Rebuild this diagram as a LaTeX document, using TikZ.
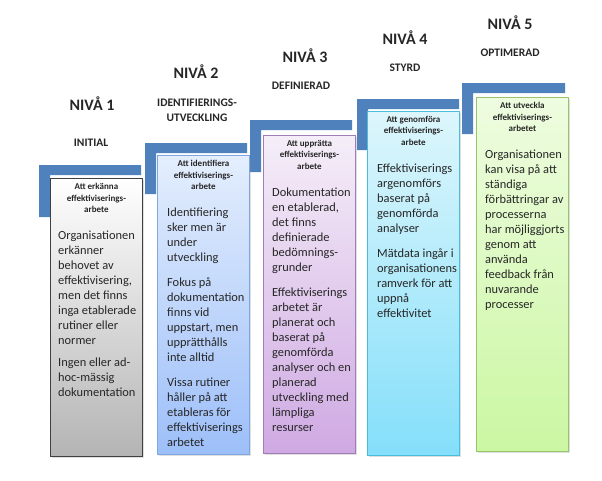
\documentclass[tikz,border=0pt]{standalone}
\usepackage{fontspec}
\setmainfont{Carlito}
\usetikzlibrary{shadows}
\definecolor{barblue}{RGB}{79,129,189}
\definecolor{txtgray}{RGB}{38,38,38}
\definecolor{grayline}{RGB}{64,64,64}
\definecolor{graybot}{RGB}{180,180,180}
\definecolor{bluetop}{RGB}{228,238,253}
\definecolor{bluebot}{RGB}{157,191,249}
\definecolor{blueline}{RGB}{127,167,223}
\definecolor{lilatop}{RGB}{245,238,248}
\definecolor{lilabot}{RGB}{207,169,227}
\definecolor{lilaline}{RGB}{157,127,181}
\definecolor{cyantop}{RGB}{221,246,252}
\definecolor{cyanbot}{RGB}{132,223,250}
\definecolor{cyanline}{RGB}{75,188,217}
\definecolor{greentop}{RGB}{238,252,224}
\definecolor{greenbot}{RGB}{203,247,162}
\definecolor{greenline}{RGB}{152,196,107}
\tikzset{
  bracket/.style={fill=barblue},
  stepbox/.style={draw, line width=0.8pt, inner sep=0pt, anchor=north west,
    minimum width=92pt,
    drop shadow={shadow xshift=1.2pt, shadow yshift=-1.5pt, opacity=0.25}},
  hdr/.style={font=\fontsize{9}{11.5}\selectfont\bfseries, text=txtgray,
    align=center, inner sep=0pt, anchor=north},
  body/.style={font=\fontsize{12.4}{15}\selectfont, text=txtgray,
    align=left, inner sep=0pt, anchor=north west},
  niva/.style={font=\fontsize{16}{19}\selectfont\bfseries, text=txtgray},
  sub/.style={font=\fontsize{11.5}{15}\selectfont\bfseries, text=txtgray, align=center}
}
\begin{document}
\begin{tikzpicture}[x=1pt, y=-1pt]
\useasboundingbox (0,0) rectangle (602,480);
% brackets
\fill[bracket] (39,165) -- (141,165) -- (141,175) -- (50,175) -- (50,217) -- (39,217) -- cycle;
\fill[bracket] (145,143) -- (247,143) -- (247,153) -- (156,153) -- (156,194) -- (145,194) -- cycle;
\fill[bracket] (250,120) -- (352,120) -- (352,130) -- (261,130) -- (261,172) -- (250,172) -- cycle;
\fill[bracket] (357,99) -- (459,99) -- (459,109) -- (368,109) -- (368,150) -- (357,150) -- cycle;
\fill[bracket] (462,83) -- (565,83) -- (565,93) -- (473,93) -- (473,134) -- (462,134) -- cycle;
% titles
\node[niva] (n1) at (92,104) {NIVÅ 1};
\node[sub] (s1) at (91,143) {INITIAL};
\node[niva] (n2) at (196,72) {NIVÅ 2};
\node[sub] (s2) at (197,110) {IDENTIFIERINGS-\\UTVECKLING};
\node[niva] (n3) at (305,56) {NIVÅ 3};
\node[sub] (s3) at (301,86) {DEFINIERAD};
\node[niva] (n4) at (405,38) {NIVÅ 4};
\node[sub] (s4) at (405,68) {STYRD};
\node[niva] (n5) at (510,23) {NIVÅ 5};
\node[sub] (s5) at (510,53) {OPTIMERAD};
% level 1
\node[stepbox, draw=grayline, top color=white, bottom color=graybot,
  minimum height=278pt] (b1) at (50,178) {};
\node[hdr] (h1) at ([yshift=-5pt]b1.north) {Att erkänna\\effektiviserings-\\arbete};
\node[body] (d1) at ([xshift=8pt, yshift=-53pt]b1.north west)
  {Organisationen\\erkänner\\behovet av\\effektivisering,\\men det finns\\inga etablerade\\rutiner eller\\normer\\[7pt]
   Ingen eller ad-\\hoc-mässig\\dokumentation};
% level 2
\node[stepbox, draw=blueline, top color=bluetop, bottom color=bluebot,
  minimum height=299pt] (b2) at (157,155) {};
\node[hdr] (h2) at ([yshift=-5pt]b2.north) {Att identifiera\\effektiviserings-\\arbete};
\node[body] (d2) at ([xshift=10pt, yshift=-53pt]b2.north west)
  {Identifiering\\sker men är\\under\\utveckling\\[10pt]
   Fokus på\\dokumentation\\finns vid\\uppstart, men\\upprätthålls\\inte alltid\\[10pt]
   Vissa rutiner\\håller på att\\etableras för\\effektiviserings\\arbetet};
% level 3
\node[stepbox, draw=lilaline, top color=lilatop, bottom color=lilabot,
  minimum height=318pt] (b3) at (263,135) {};
\node[hdr] (h3) at ([yshift=-5pt]b3.north) {Att upprätta\\effektiviserings-\\arbete};
\node[body] (d3) at ([xshift=9pt, yshift=-53pt]b3.north west)
  {Dokumentation\\en etablerad,\\det finns\\definierade\\bedömnings-\\grunder\\[10pt]
   Effektiviserings\\arbetet är\\planerat och\\baserat på\\genomförda\\analyser och en\\planerad\\utveckling med\\lämpliga\\resurser};
% level 4
\node[stepbox, draw=cyanline, top color=cyantop, bottom color=cyanbot,
  minimum height=344pt] (b4) at (367,111) {};
\node[hdr] (h4) at ([yshift=-5pt]b4.north) {Att genomföra\\effektiviserings-\\arbete};
\node[body] (d4) at ([xshift=10pt, yshift=-53pt]b4.north west)
  {Effektiviserings\\argenomförs\\baserat på\\genomförda\\analyser\\[10pt]
   Mätdata ingår i\\organisationens\\ramverk för att\\uppnå\\effektivitet};
% level 5
\node[stepbox, draw=greenline, top color=greentop, bottom color=greenbot,
  minimum height=354pt] (b5) at (476,97) {};
\node[hdr] (h5) at ([yshift=-5pt]b5.north) {Att utveckla\\effektiviserings-\\arbetet};
\node[body] (d5) at ([xshift=9pt, yshift=-53pt]b5.north west)
  {Organisationen\\kan visa på att\\ständiga\\förbättringar av\\processerna\\har möjliggjorts\\genom att\\använda\\feedback från\\nuvarande\\processer};
\end{tikzpicture}
\end{document}
